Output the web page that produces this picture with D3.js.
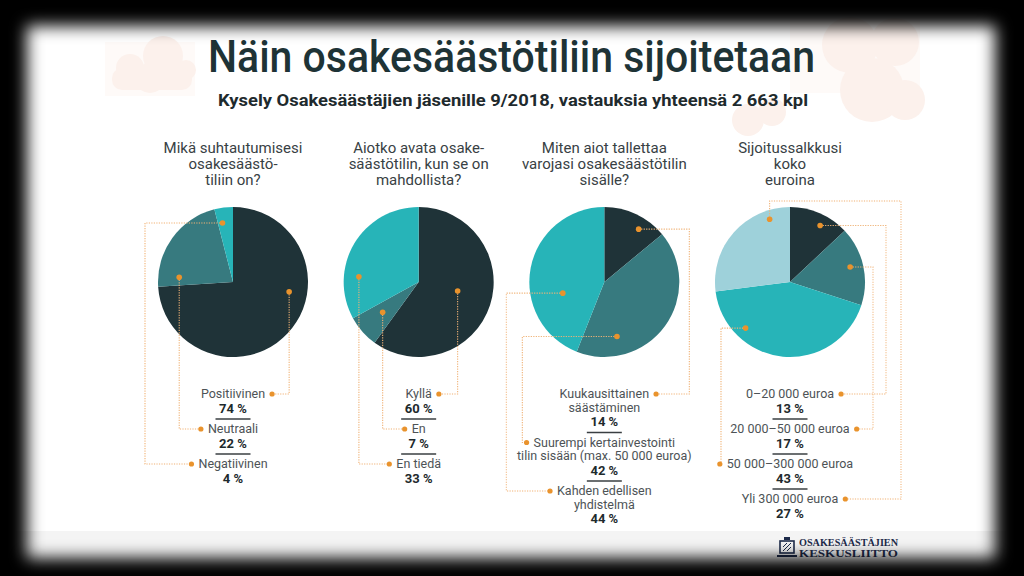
<!DOCTYPE html>
<html><head><meta charset="utf-8">
<script src="https://cdn.jsdelivr.net/npm/d3@7"></script>
<style>html,body{margin:0;padding:0;background:#000;} svg{display:block}</style>
</head><body><svg id="c" width="1024" height="576"></svg>
<script>
// ---------- DATA ----------
const title = "Näin osakesäästötiliin sijoitetaan";
const subtitle = "Kysely Osakesäästäjien jäsenille 9/2018, vastauksia yhteensä 2 663 kpl";
const questions = [
  ["Mikä suhtautumisesi", "osakesäästö-", "tiliin on?"],
  ["Aiotko avata osake-", "säästötilin, kun se on", "mahdollista?"],
  ["Miten aiot tallettaa", "varojasi osakesäästötilin", "sisälle?"],
  ["Sijoitussalkkusi", "koko", "euroina"]
];
const labels1 = [["Positiivinen"], ["Neutraali"], ["Negatiivinen"]];
const values1 = [74, 22, 4];
const labels2 = [["Kyllä"], ["En"], ["En tiedä"]];
const values2 = [60, 7, 33];
const labels3 = [["Kuukausittainen", "säästäminen"], ["Suurempi kertainvestointi", "tilin sisään (max. 50 000 euroa)"], ["Kahden edellisen", "yhdistelmä"]];
const values3 = [14, 42, 44];
const labels4 = [["0–20 000 euroa"], ["20 000–50 000 euroa"], ["50 000–300 000 euroa"], ["Yli 300 000 euroa"]];
const values4 = [13, 17, 43, 27];
const logoLines = ["OSAKESÄÄSTÄJIEN", "KESKUSLIITTO"];

// ---------- LAYOUT / STYLE ----------
const W = 1024, H = 576;
const palette = ["#1f3338", "#377a7f", "#27b4b8", "#9ed1da"];
const font = "Roboto, 'Open Sans', sans-serif";
const R = 75, cy = 282;
// leader anchors: t = position inside slice (0..1), k = radius, ex = elbow x offset, top = extra top offset
const leaders = [
  [{t: .375, k: 57}, {t: .11, k: 54}, {t: .3, k: 60, ex: -88}],
  [{t: .477, k: 40}, {t: .556, k: 47}, {t: .285, k: 60}],
  [{t: .655, k: 63, ex: 85}, {t: .771, k: 56, ex: -82}, {t: .337, k: 43, ex: -98}],
  [{t: .6, k: 64, ex: 96}, {t: .477, k: 62, ex: 83}, {t: .749, k: 64, ex: -69}, {t: .815, k: 66, ex: 111, top: -81}]
];
const pies = [
  {labels: labels1, values: values1},
  {labels: labels2, values: values2},
  {labels: labels3, values: values3},
  {labels: labels4, values: values4}
];

const svg = d3.select("#c");
const defs = svg.append("defs");
defs.append("filter").attr("id", "blur").attr("x", "-10%").attr("y", "-10%").attr("width", "120%").attr("height", "120%")
  .append("feGaussianBlur").attr("stdDeviation", 8);
const mask = defs.append("mask").attr("id", "vig");
mask.append("rect").attr("width", W).attr("height", H).attr("fill", "#fff");
mask.append("rect").attr("x", 27).attr("y", 26).attr("width", 968).attr("height", 532).attr("fill", "#000").attr("filter", "url(#blur)");

// background
svg.append("rect").attr("width", W).attr("height", H).attr("fill", "#fff");
svg.append("rect").attr("x", 0).attr("y", 531).attr("width", W).attr("height", 45).attr("fill", "#f4f4f4");

// decorative clouds (very faint)
svg.append("rect").attr("x", 105).attr("y", 42).attr("width", 90).attr("height", 54).attr("fill", "#fefaf8");
svg.append("rect").attr("x", 790).attr("y", 18).attr("width", 130).attr("height", 75).attr("fill", "#fefaf8");
const clouds = svg.append("g").attr("fill", "#fcf1ec");
[[130, 68, 14], [163, 56, 20], [186, 70, 10], [150, 78, 15]].forEach(c => clouds.append("circle").attr("cx", c[0]).attr("cy", c[1]).attr("r", c[2]));
clouds.append("rect").attr("x", 112).attr("y", 68).attr("width", 80).attr("height", 22).attr("rx", 10);
[[850, 45, 28], [895, 42, 24], [872, 90, 32], [905, 100, 20], [748, 120, 16], [772, 112, 14]].forEach(c => clouds.append("circle").attr("cx", c[0]).attr("cy", c[1]).attr("r", c[2]));

// title & subtitle
svg.append("text").attr("x", 208).attr("y", 72).attr("textLength", 607).attr("lengthAdjust", "spacingAndGlyphs")
  .attr("font-family", font).attr("font-weight", 500).attr("font-size", 45).attr("fill", "#1e3336").text(title);
svg.append("text").attr("x", 218).attr("y", 106).attr("textLength", 590).attr("lengthAdjust", "spacingAndGlyphs")
  .attr("font-family", font).attr("font-weight", 700).attr("font-size", 16.5).attr("fill", "#1e2a2d").text(subtitle);

const xPie = d3.scalePoint().domain(d3.range(pies.length)).range([233, 790]);
const pieGen = d3.pie().sort(null).value(d => d).startAngle(0).endAngle(2 * Math.PI);
const arc = d3.arc().innerRadius(0).outerRadius(R);
const color = d3.scaleOrdinal().domain(d3.range(4)).range(palette);

const lineH = 13.5, pctGap = 14.5, sepGap = 6.5, nextGap = 14;

pies.forEach((p, pi) => {
  const cx = xPie(pi);
  const g = svg.append("g");
  // question
  g.append("text").attr("font-family", font).attr("font-size", 15).attr("fill", "#384144").attr("text-anchor", "middle")
    .selectAll("tspan").data(questions[pi]).join("tspan").attr("x", cx).attr("y", (d, i) => 153 + i * 16).text(d => d);
  // pie
  const arcs = pieGen(p.values);
  g.append("g").attr("transform", `translate(${cx},${cy})`).selectAll("path").data(arcs).join("path")
    .attr("d", arc).attr("fill", (d, i) => color(i));
  // labels
  let y = 398;
  const lg = g.append("g");
  const items = [];
  p.labels.forEach((lines, i) => {
    if (i > 0) {
      lg.append("line").attr("x1", cx - 17.5).attr("x2", cx + 17.5).attr("y1", y + sepGap).attr("y2", y + sepGap)
        .attr("stroke", "#3a3f42").attr("stroke-width", 1.5);
      y += sepGap + nextGap;
    }
    const first = y;
    let firstW = 0;
    lines.forEach((ln, j) => {
      const t = lg.append("text").attr("x", cx).attr("y", y).attr("text-anchor", "middle").attr("font-family", font)
        .attr("font-size", 12.5).attr("fill", "#4d5356").text(ln);
      const w = t.node().getComputedTextLength();
      if (j === 0) firstW = w;
      if (j < lines.length - 1) y += lineH;
    });
    y += pctGap;
    lg.append("text").attr("x", cx).attr("y", y).attr("text-anchor", "middle").attr("font-family", font)
      .attr("font-size", 13).attr("font-weight", 700).attr("fill", "#1e2a2d").text(p.values[i] + " %");
    items.push({first, firstW});
  });
  // leaders
  const lead = g.append("g");
  arcs.forEach((a, i) => {
    const L = leaders[pi][i];
    const ang = a.startAngle + L.t * (a.endAngle - a.startAngle);
    const px = cx + L.k * Math.sin(ang), py = cy - L.k * Math.cos(ang);
    const ex = L.ex !== undefined ? cx + L.ex : px;
    const right = ex > cx;
    const ly = items[i].first - 4;
    const lx = right ? cx + items[i].firstW / 2 + 7 : cx - items[i].firstW / 2 - 7;
    const pts = [[px, py]];
    if (L.top !== undefined) { pts.push([px, cy + L.top]); pts.push([ex, cy + L.top]); }
    else pts.push([ex, py]);
    pts.push([ex, ly]);
    pts.push([lx, ly]);
    lead.append("path").attr("d", d3.line()(pts)).attr("fill", "none").attr("stroke", "#f0b276")
      .attr("stroke-width", 1.1).attr("stroke-dasharray", "1.2,1.3");
    lead.append("circle").attr("cx", px).attr("cy", py).attr("r", 2.8).attr("fill", "#e9932d");
    lead.append("circle").attr("cx", lx).attr("cy", ly).attr("r", 2.6).attr("fill", "#e9932d");
  });
});

// logo
const logo = svg.append("g").attr("fill", "#1d2b4a").attr("stroke", "#1d2b4a");
logo.append("rect").attr("x", 780).attr("y", 541).attr("width", 14).attr("height", 12).attr("fill", "none").attr("stroke-width", 1.6);
logo.append("path").attr("d", "M783,551 L791,543 M783,547 L787,543 M787,551 L791,547").attr("stroke-width", 1);
logo.append("rect").attr("x", 784).attr("y", 537).attr("width", 6).attr("height", 3).attr("stroke", "none");
logo.append("path").attr("d", "M777,556 L797,556").attr("stroke-width", 2);
logoLines.forEach((t, i) => svg.append("text").attr("x", 799).attr("y", 546 + i * 11).attr("textLength", 99)
  .attr("lengthAdjust", "spacingAndGlyphs").attr("font-family", "'Liberation Serif', serif").attr("font-weight", 700)
  .attr("font-size", 9.5).attr("fill", "#1d2b4a").text(t));

// vignette
svg.append("rect").attr("width", W).attr("height", H).attr("fill", "#000").attr("mask", "url(#vig)");
</script></body></html>
